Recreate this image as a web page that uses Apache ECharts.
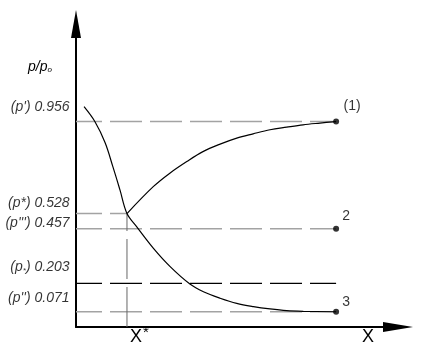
<!DOCTYPE html>
<html><head><meta charset="utf-8">
<script src="https://cdn.jsdelivr.net/npm/echarts@6/dist/echarts.min.js"></script>
<style>html,body{margin:0;padding:0;background:#fff}#c{width:421px;height:351px}</style>
</head><body><div id="c"></div>
<script>
// ---- data ----
const levelValues = [0.956, 0.528, 0.457, 0.203, 0.071];
const levelNames  = ["p'", "p*", "p'''", "p\u2090", "p''"];
const levelEndX   = [100, 19.6, 100, 100, 100];
const xStar = 19.6;
const pStar = 0.528;
// branch rising from the critical point to state (1)
const riseX = [19.6, 29.7, 36.2, 42.6, 48.8, 55.4, 61.8, 68.1, 74.6, 81.0, 87.3, 93.8, 100];
const riseY = [0.528, 0.653, 0.717, 0.770, 0.816, 0.851, 0.879, 0.899, 0.918, 0.930, 0.941, 0.949, 0.956];
// falling curve down to state (3)
const fallX = [3.1, 7.3, 11.2, 14.2, 16.9, 19.6, 23.3, 29.7, 36.2, 43.8, 49.0, 55.4, 61.8, 68.2, 74.6, 81.0, 87.4, 100];
const fallY = [1.025, 0.955, 0.857, 0.745, 0.638, 0.528, 0.467, 0.367, 0.281, 0.200, 0.164, 0.134, 0.110, 0.095, 0.084, 0.076, 0.073, 0.071];
const endX = [100, 100, 100];
const endY = [0.956, 0.457, 0.071];
const endLabels = ['(1)', '2', '3'];

// ---- styles ----
const FONT = '"Liberation Sans", Arial, sans-serif';
const labelDy = [-14, -10, -6, -16, -14];
const endOffsets = [[16, -15], [10, -13], [10, -10]];
const gray = '#a3a3a3';

const zip = (a, b) => a.map((v, i) => [v, b[i]]);
const series = [];

levelValues.forEach((v, i) => {
  series.push({
    type: 'line', silent: true, symbol: 'none', z: 1,
    data: [[0, v], [levelEndX[i], v]],
    lineStyle: { color: i === 3 ? '#000' : gray, width: i === 3 ? 1.2 : 1.6, type: [32, 8], dashOffset: 6 }
  });
});
series.push({
  type: 'line', silent: true, symbol: 'none', z: 1,
  data: [[xStar, 0], [xStar, pStar]],
  lineStyle: { color: '#666', width: 1, type: [40, 8] }
});
series.push({
  type: 'line', silent: true, symbol: 'none', smooth: 0.35, z: 3,
  data: zip(riseX, riseY), lineStyle: { color: '#000', width: 1.2 }
});
series.push({
  type: 'line', silent: true, symbol: 'none', smooth: 0.35, z: 3,
  data: zip(fallX, fallY), lineStyle: { color: '#000', width: 1.2 }
});
series.push({
  type: 'scatter', silent: true, symbolSize: 6, z: 4,
  itemStyle: { color: '#000' },
  data: endX.map((x, i) => ({
    value: [x, endY[i]],
    label: { show: true, formatter: endLabels[i], position: 'inside', offset: endOffsets[i],
             color: '#000', fontSize: 14, fontFamily: FONT }
  }))
});
const rich = {
  i: { fontStyle: 'italic', fontSize: 14, fontFamily: FONT, color: '#000' },
  s: { fontStyle: 'italic', fontSize: 8, fontFamily: FONT, color: '#000', padding: [6, 0, 0, 0] }
};
series.push({
  type: 'scatter', silent: true, symbolSize: 1, z: 5, clip: false,
  itemStyle: { color: 'rgba(0,0,0,0)' },
  data: levelValues.map((v, i) => {
    const nm = levelNames[i];
    let txt;
    if (nm === 'p\u2090') txt = '{i|(p}{s|*}{i|) ' + v.toFixed(3) + '}';
    else txt = '{i|(' + nm + ') ' + v.toFixed(3) + '}';
    return {
      value: [0, v],
      label: { show: true, position: 'left', distance: 6, offset: [0, labelDy[i]], formatter: txt, rich: rich }
    };
  })
});

const chart = echarts.init(document.getElementById('c'), null, { renderer: 'canvas' });
chart.setOption({
  animation: false,
  backgroundColor: '#fff',
  grid: { left: 76, right: 23, top: 24, bottom: 24, containLabel: false },
  xAxis: {
    type: 'value', min: 0, max: 123.8,
    axisLine: { show: true, onZero: false, symbol: ['none', 'triangle'], symbolSize: [10, 30], lineStyle: { color: '#000', width: 2 } },
    axisTick: { show: false }, axisLabel: { show: false }, splitLine: { show: false }
  },
  yAxis: {
    type: 'value', min: 0, max: 1.41,
    axisLine: { show: true, onZero: false, symbol: ['none', 'triangle'], symbolSize: [10, 28], lineStyle: { color: '#000', width: 2 } },
    axisTick: { show: false }, axisLabel: { show: false }, splitLine: { show: false }
  },
  graphic: [
    { type: 'text', left: 28, top: 60, style: { text: '{i|p/p}{s|o}', rich: rich } },
    { type: 'text', left: 130, top: 328, style: { text: 'X', font: '18px ' + FONT, fill: '#000' } },
    { type: 'text', left: 143, top: 325, style: { text: '*', font: '15px ' + FONT, fill: '#000' } },
    { type: 'text', left: 362, top: 328, style: { text: 'X', font: '18px ' + FONT, fill: '#000' } }
  ],
  series: series
});
</script></body></html>
